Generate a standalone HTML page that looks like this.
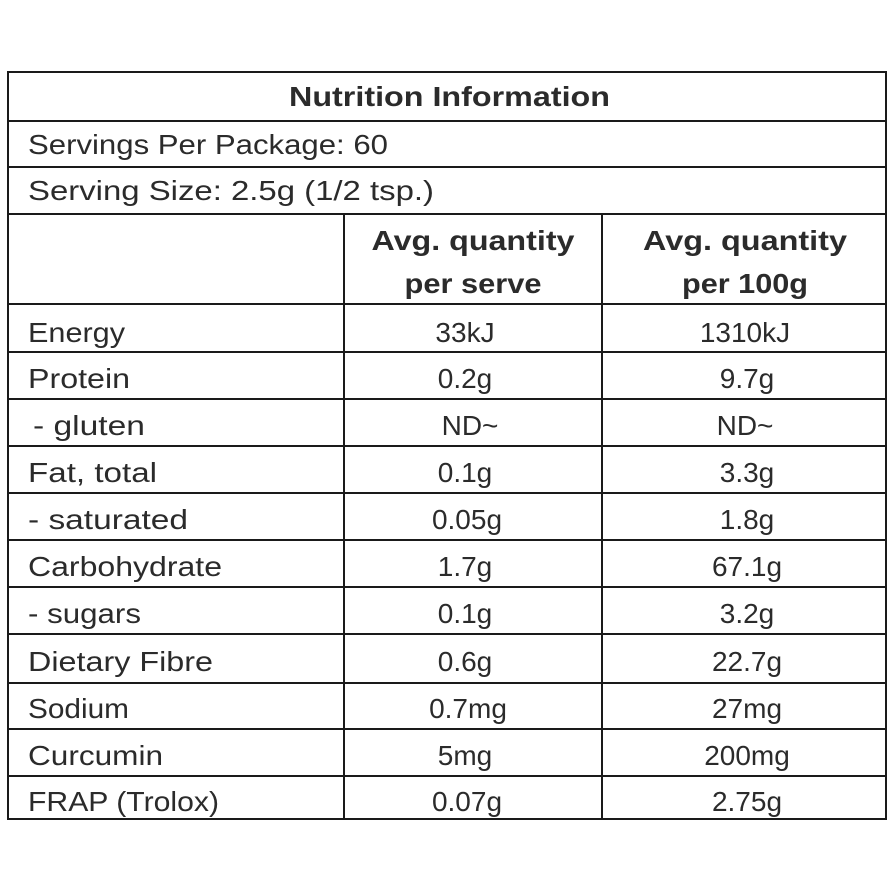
<!DOCTYPE html>
<html><head><meta charset="utf-8"><style>html,body{margin:0;padding:0;background:#fff;}svg{display:block}</style></head>
<body>
<svg width="894" height="894" viewBox="0 0 894 894" xmlns="http://www.w3.org/2000/svg" font-family="Liberation Sans, sans-serif" fill="#2b2b2b">
<g stroke="#1a1a1a" stroke-width="2" fill="none">
<rect x="8" y="72" width="878" height="747"/>
<line x1="8" y1="121" x2="886" y2="121"/>
<line x1="8" y1="167" x2="886" y2="167"/>
<line x1="8" y1="214" x2="886" y2="214"/>
<line x1="8" y1="304" x2="886" y2="304"/>
<line x1="8" y1="352" x2="886" y2="352"/>
<line x1="8" y1="399" x2="886" y2="399"/>
<line x1="8" y1="446" x2="886" y2="446"/>
<line x1="8" y1="493" x2="886" y2="493"/>
<line x1="8" y1="540" x2="886" y2="540"/>
<line x1="8" y1="587" x2="886" y2="587"/>
<line x1="8" y1="634" x2="886" y2="634"/>
<line x1="8" y1="683" x2="886" y2="683"/>
<line x1="8" y1="729" x2="886" y2="729"/>
<line x1="8" y1="776" x2="886" y2="776"/>
<line x1="344" y1="214" x2="344" y2="819"/>
<line x1="602" y1="214" x2="602" y2="819"/>
</g>
<g font-size="28">
<text x="289" y="106" font-weight="bold" textLength="321" lengthAdjust="spacingAndGlyphs">Nutrition Information</text>
<text x="28" y="154" textLength="360" lengthAdjust="spacingAndGlyphs">Servings  Per Package: 60</text>
<text x="28" y="200" textLength="406" lengthAdjust="spacingAndGlyphs">Serving   Size: 2.5g (1/2 tsp.)</text>
<g font-weight="bold" text-anchor="middle">
<text x="473" y="250" textLength="203" lengthAdjust="spacingAndGlyphs">Avg. quantity</text>
<text x="473" y="293" textLength="137" lengthAdjust="spacingAndGlyphs">per serve</text>
<text x="745" y="250" textLength="204" lengthAdjust="spacingAndGlyphs">Avg. quantity</text>
<text x="745" y="293" textLength="126" lengthAdjust="spacingAndGlyphs">per 100g</text>
</g>
<text x="28" y="342" textLength="97" lengthAdjust="spacingAndGlyphs">Energy</text>
<text x="28" y="388" textLength="102" lengthAdjust="spacingAndGlyphs">Protein</text>
<text x="33" y="435" textLength="112" lengthAdjust="spacingAndGlyphs">- gluten</text>
<text x="28" y="482" textLength="129" lengthAdjust="spacingAndGlyphs">Fat, total</text>
<text x="28" y="529" textLength="160" lengthAdjust="spacingAndGlyphs">- saturated</text>
<text x="28" y="576" textLength="194" lengthAdjust="spacingAndGlyphs">Carbohydrate</text>
<text x="28" y="623" textLength="113" lengthAdjust="spacingAndGlyphs">- sugars</text>
<text x="28" y="671" textLength="185" lengthAdjust="spacingAndGlyphs">Dietary Fibre</text>
<text x="28" y="718" textLength="101" lengthAdjust="spacingAndGlyphs">Sodium</text>
<text x="28" y="765" textLength="135" lengthAdjust="spacingAndGlyphs">Curcumin</text>
<text x="28" y="811" textLength="191" lengthAdjust="spacingAndGlyphs">FRAP (Trolox)</text>
<g text-anchor="middle">
<text x="465" y="342">33kJ</text><text x="745" y="342">1310kJ</text>
<text x="465" y="388">0.2g</text><text x="747" y="388">9.7g</text>
<text x="470" y="435">ND~</text><text x="745" y="435">ND~</text>
<text x="465" y="482">0.1g</text><text x="747" y="482">3.3g</text>
<text x="467" y="529">0.05g</text><text x="747" y="529">1.8g</text>
<text x="465" y="576">1.7g</text><text x="747" y="576">67.1g</text>
<text x="465" y="623">0.1g</text><text x="747" y="623">3.2g</text>
<text x="465" y="671">0.6g</text><text x="747" y="671">22.7g</text>
<text x="468" y="718">0.7mg</text><text x="747" y="718">27mg</text>
<text x="465" y="765">5mg</text><text x="747" y="765">200mg</text>
<text x="467" y="811">0.07g</text><text x="747" y="811">2.75g</text>
</g>
</g>
</svg>
</body></html>
